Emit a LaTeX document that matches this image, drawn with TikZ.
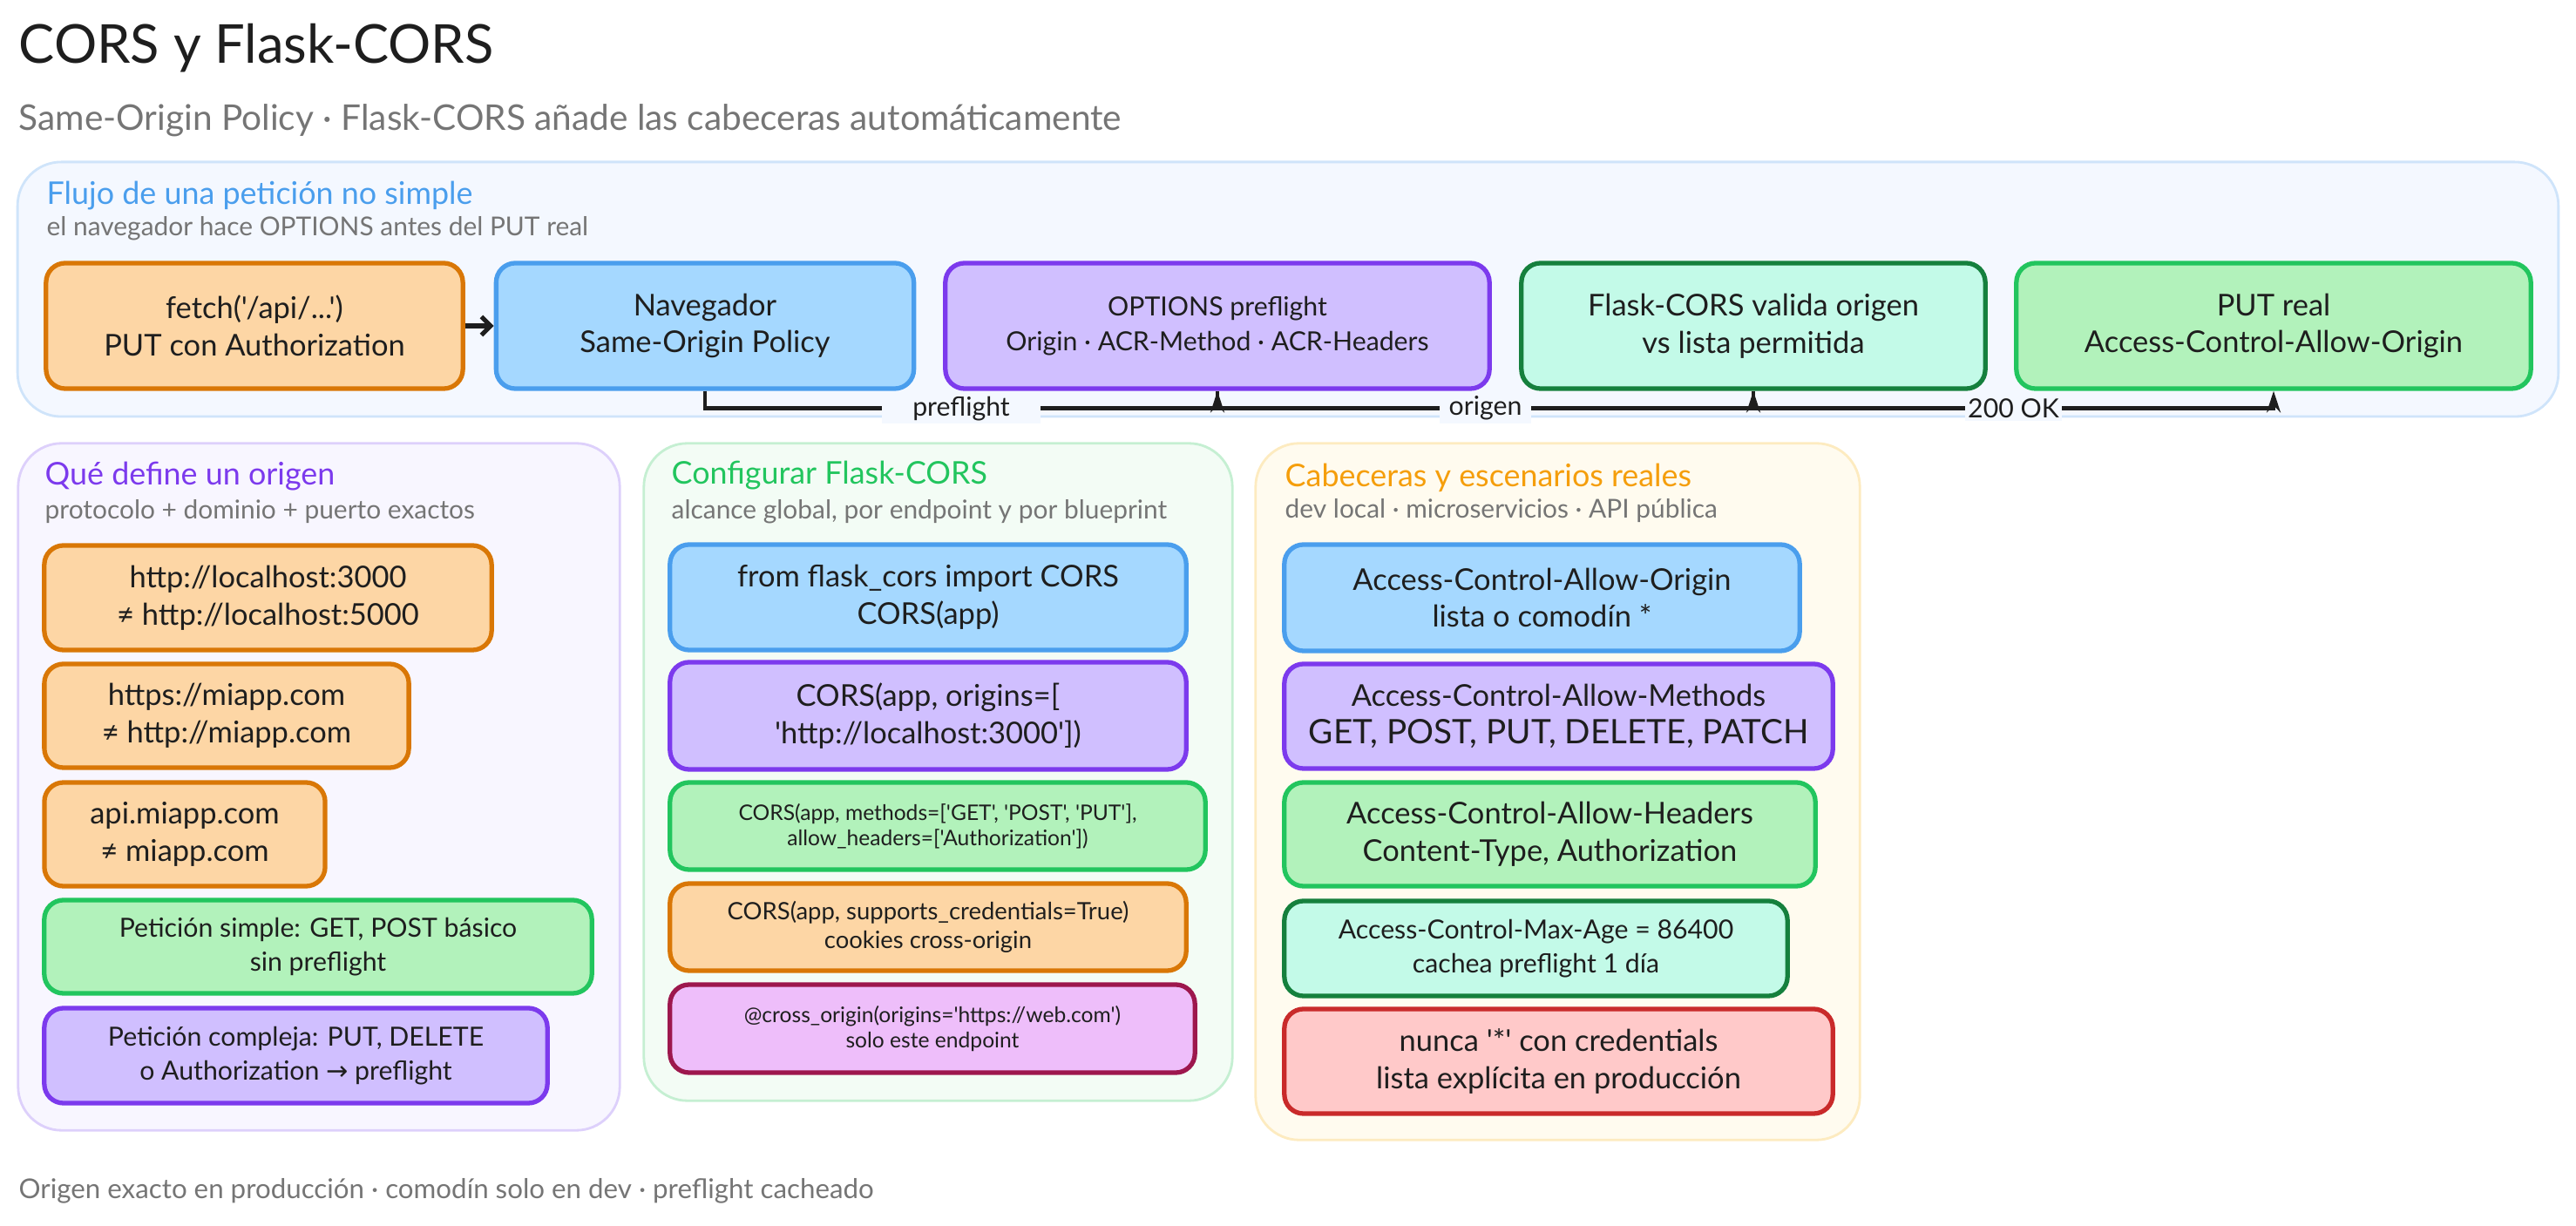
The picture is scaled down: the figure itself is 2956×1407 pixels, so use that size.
\documentclass[tikz,border=0pt]{standalone}
\usepackage{fontspec}
\setmainfont{Lato}[Ligatures=TeXOff]
\newfontfamily\symfont{DejaVu Sans}
\usetikzlibrary{arrows.meta,positioning}

\definecolor{ink}{HTML}{1E1E1E}
\definecolor{muted}{HTML}{757575}
\definecolor{orangeS}{HTML}{D97706}
\definecolor{orangeF}{HTML}{FDD6A5}
\definecolor{blueS}{HTML}{4A9EED}
\definecolor{blueF}{HTML}{A5D8FF}
\definecolor{purpleS}{HTML}{7C3AED}
\definecolor{purpleF}{HTML}{D0BFFF}
\definecolor{tealS}{HTML}{15803D}
\definecolor{tealF}{HTML}{C3FAE8}
\definecolor{greenS}{HTML}{22C55E}
\definecolor{greenF}{HTML}{B2F2BB}
\definecolor{pinkS}{HTML}{9D174D}
\definecolor{pinkF}{HTML}{EEBEFA}
\definecolor{redS}{HTML}{C92A2A}
\definecolor{redF}{HTML}{FFC9C9}
\definecolor{amberS}{HTML}{F59E0B}
\definecolor{panelblue}{HTML}{F4F8FF}
\definecolor{panelblueS}{HTML}{CFE4FA}
\definecolor{panelpurple}{HTML}{F8F6FF}
\definecolor{panelpurpleS}{HTML}{DDD0FB}
\definecolor{panelgreen}{HTML}{F3FCF5}
\definecolor{panelgreenS}{HTML}{C5EFD2}
\definecolor{panelamber}{HTML}{FFFBEF}
\definecolor{panelamberS}{HTML}{FDEBC0}

\newcommand{\sizeA}{\fontsize{9.8}{12.2}\selectfont}
\newcommand{\sizeB}{\fontsize{8.6}{11.2}\selectfont}
\newcommand{\sizeC}{\fontsize{7.8}{9.4}\selectfont}
\newcommand{\sizeD}{\fontsize{7.0}{8.25}\selectfont}

\begin{document}
\begin{tikzpicture}[
        x=0.01cm, y=-0.01cm,
        % Block styles
        panel/.style={
            rectangle,
            draw=#1S,
            line width=0.8pt,
            rounded corners=0.5cm,
            fill=#1
        },
        block/.style={
            rectangle,
            draw=#1S,
            line width=1.5pt,
            rounded corners=0.22cm,
            align=center,
            text=ink,
            inner sep=0pt,
            fill=#1F
        },
        heading/.style={anchor=west, inner sep=0pt, font=\fontsize{10.2}{12}\selectfont, text=#1},
        caption/.style={anchor=west, inner sep=0pt, font=\fontsize{8.5}{10}\selectfont, text=muted},
        arrow/.style={-{Stealth[length=7pt,width=4.5pt]}, line width=1.25pt, draw=ink},
        shortarrow/.style={-{Straight Barb[length=3pt,width=6pt]}, line width=1.5pt, draw=ink},
        edgelabel/.style={fill=panelblue, inner ysep=1pt, font=\sizeB, text=ink}
    ]
    \useasboundingbox (0,0) rectangle (2956,1407);

    % Title
    \node[anchor=west, inner sep=0pt, font=\fontsize{17.5}{20}\selectfont, text=ink] (title) at (21,55) {CORS y Flask-CORS};
    \node[anchor=west, inner sep=0pt, font=\fontsize{11.55}{13}\selectfont, text=muted] (subtitle) at (21,138) {Same-Origin Policy · Flask-CORS añade las cabeceras automáticamente};

    % Flow panel
    \node[panel=panelblue, minimum width=29.14cm, minimum height=2.92cm] (flow) at (1478,332) {};
    \node[heading=blueS] (flowtitle) at (53,225) {Flujo de una petición no simple};
    \node[caption] (flowsub) at (53,262) {el navegador hace OPTIONS antes del PUT real};
    \node[block=orange, minimum width=4.78cm, minimum height=1.44cm, font=\sizeA] (fetch) at (292,374) {fetch('/api/...')\\PUT con Authorization};
    \node[block=blue, minimum width=4.79cm, minimum height=1.44cm, font=\sizeA] (nav) at (809,374) {Navegador\\Same-Origin Policy};
    \node[block=purple, minimum width=6.24cm, minimum height=1.44cm, font=\sizeB] (opts) at (1397,374) {OPTIONS preflight\\Origin · ACR-Method · ACR-Headers};
    \node[block=teal, minimum width=5.32cm, minimum height=1.44cm, font=\sizeA] (valida) at (2012,374) {Flask-CORS valida origen\\vs lista permitida};
    \node[block=green, minimum width=5.90cm, minimum height=1.44cm, font=\sizeA] (real) at (2609,374) {PUT real\\Access-Control-Allow-Origin};

    % Origin panel
    \node[panel=panelpurple, minimum width=6.90cm, minimum height=7.88cm] (origin) at (366,903) {};
    \node[heading=purpleS] (origintitle) at (51,547) {Qué define un origen};
    \node[caption] (originsub) at (51,587) {protocolo + dominio + puerto exactos};
    \node[block=orange, minimum width=5.13cm, minimum height=1.20cm, font=\sizeA] (hostport) at (307.5,686) {http://localhost:3000\\≠ http://localhost:5000};
    \node[block=orange, minimum width=4.18cm, minimum height=1.19cm, font=\sizeA] (scheme) at (260,821.5) {https://miapp.com\\≠ http://miapp.com};
    \node[block=orange, minimum width=3.22cm, minimum height=1.19cm, font=\sizeA] (subdomain) at (212,957.5) {api.miapp.com\\≠ miapp.com};
    \node[block=green, minimum width=6.28cm, minimum height=1.07cm, font=\sizeB] (simple) at (365,1086.5) {Petición simple: GET, POST básico\\sin preflight};
    \node[block=purple, minimum width=5.77cm, minimum height=1.09cm, font=\sizeB] (complex) at (339.5,1211.5) {Petición compleja: PUT, DELETE\\o Authorization {\symfont →} preflight};

    % Config panel
    \node[panel=panelgreen, minimum width=6.75cm, minimum height=7.54cm] (config) at (1076.5,886) {};
    \node[heading=greenS] (configtitle) at (770,546) {Configurar Flask-CORS};
    \node[caption] (configsub) at (770,587) {alcance global, por endpoint y por blueprint};
    \node[block=blue, minimum width=5.92cm, minimum height=1.21cm, font=\sizeA] (global) at (1065,685.5) {from flask\_cors import CORS\\CORS(app)};
    \node[block=purple, minimum width=5.92cm, minimum height=1.23cm, font=\sizeA] (origins) at (1065,821.5) {CORS(app, origins=[\\'http://localhost:3000'])};
    \node[block=green, minimum width=6.14cm, minimum height=1.00cm, font=\sizeD] (methods) at (1076,948) {CORS(app, methods=['GET', 'POST', 'PUT'],\\allow\_headers=['Authorization'])};
    \node[block=orange, minimum width=5.92cm, minimum height=1.00cm, font=\sizeC] (creds) at (1065,1064) {CORS(app, supports\_credentials=True)\\cookies cross-origin};
    \node[block=pink, minimum width=6.02cm, minimum height=1.01cm, font=\sizeD] (decorator) at (1070,1180.5) {@cross\_origin(origins='https://web.com')\\solo este endpoint};

    % Headers panel
    \node[panel=panelamber, minimum width=6.93cm, minimum height=7.99cm] (headers) at (1787.5,908.5) {};
    \node[heading=amberS] (headerstitle) at (1474,548) {Cabeceras y escenarios reales};
    \node[caption] (headerssub) at (1474,586) {dev local · microservicios · API pública};
    \node[block=blue, minimum width=5.91cm, minimum height=1.22cm, font=\sizeA] (alloworigin) at (1769.5,686) {Access-Control-Allow-Origin\\lista o comodín *};
    \node[block=purple, minimum width=6.29cm, minimum height=1.20cm, font=\sizeA] (allowmethods) at (1788.5,822) {Access-Control-Allow-Methods\\{\fontsize{11}{12.2}\selectfont GET, POST, PUT, DELETE, PATCH}};
    \node[block=green, minimum width=6.09cm, minimum height=1.19cm, font=\sizeA] (allowheaders) at (1778.5,957.5) {Access-Control-Allow-Headers\\Content-Type, Authorization};
    \node[block=teal, minimum width=5.77cm, minimum height=1.09cm, font=\sizeB] (maxage) at (1762.5,1088.5) {Access-Control-Max-Age = 86400\\cachea preflight 1 día};
    \node[block=red, minimum width=6.29cm, minimum height=1.20cm, font=\sizeA] (warning) at (1788.5,1218) {nunca '*' con credentials\\lista explícita en producción};

    % Footer
    \node[anchor=west, inner sep=0pt, font=\fontsize{8.9}{10}\selectfont, text=muted] (footer) at (21,1367) {Origen exacto en producción · comodín solo en dev · preflight cacheado};

    % Connections
    \draw[shortarrow] (fetch) -- (nav);
    \draw[arrow] (nav.south) -- ++(0,20) -| node[edgelabel, pos=0.25, inner xsep=10pt] (lblpre) {preflight} (opts.south);
    \draw[arrow] (opts.south) -- ++(0,20) -| node[edgelabel, pos=0.25, inner xsep=3pt] (lblorigen) {origen} (valida.south);
    \draw[arrow] (valida.south) -- ++(0,20) -| node[edgelabel, pos=0.25, inner xsep=1pt] (lblok) {200 OK} (real.south);

\end{tikzpicture}
\end{document}
